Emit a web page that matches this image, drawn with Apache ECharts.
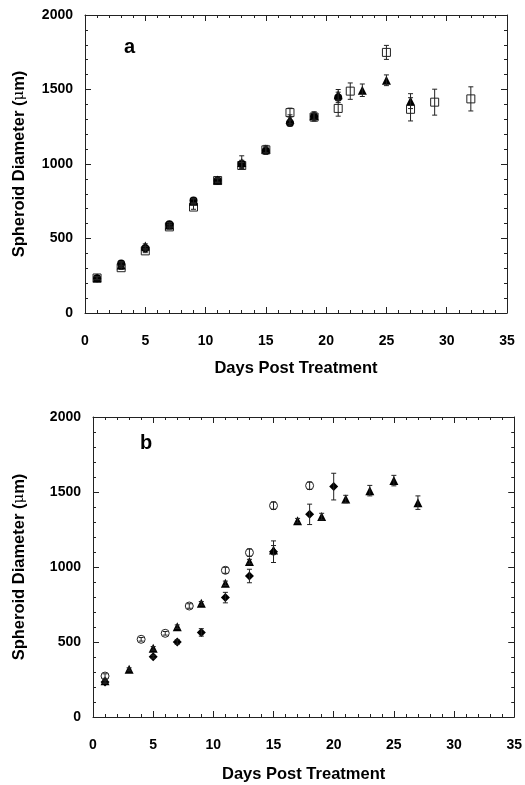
<!DOCTYPE html>
<html>
<head>
<meta charset="utf-8">
<script src="https://cdn.jsdelivr.net/npm/echarts@6/dist/echarts.min.js"></script>
<style>
  html, body { margin: 0; padding: 0; background: #fff; }
  #chart { width: 525px; height: 785px; }
</style>
</head>
<body>
<div id="chart"></div>
<script>
// axis ranges
var xMin = 0, xMax = 35, xStep = 5;
var yMin = 0, yMax = 2000, yStep = 500;

// panel a  -  [day, diameter (um), error]
var aSquares = [[1, 235, 10], [3, 304, 12], [5, 417, 12], [7, 578, 15], [9, 711, 15], [11, 889, 15],
  [13, 990, 20], [15, 1095, 20], [17, 1345, 30], [19, 1315, 25], [21, 1373, 52], [22, 1489, 55],
  [25, 1749, 47], [27, 1367, 78], [29, 1415, 87], [32, 1437, 81]];
var aTriangles = [[1, 235, 10], [3, 322, 15], [5, 449, 15], [7, 590, 15], [9, 750, 15], [11, 893, 15],
  [13, 1010, 45], [15, 1100, 25], [17, 1300, 30], [19, 1325, 25], [21, 1465, 35], [23, 1495, 42],
  [25, 1562, 36], [27, 1422, 50]];
var aCircles = [[1, 233, 10], [3, 333, 12], [5, 435, 12], [7, 595, 12], [9, 755, 15], [11, 889, 12],
  [13, 1000, 25], [15, 1089, 25], [17, 1275, 20], [19, 1318, 30], [21, 1447, 35]];

// panel b
var bCircles = [[1, 273, 15], [4, 518, 12], [6, 558, 12], [8, 740, 15], [11, 978, 20],
  [13, 1096, 25], [15, 1409, 25], [18, 1542, 25]];
var bTriangles = [[1, 242, 10], [3, 318, 10], [5, 458, 12], [7, 602, 12], [9, 758, 12], [11, 891, 15],
  [13, 1036, 15], [15, 1113, 30], [17, 1309, 15], [19, 1336, 22], [21, 1453, 25], [23, 1509, 35],
  [25, 1576, 35], [27, 1429, 45]];
var bDiamonds = [[1, 233, 10], [5, 402, 10], [7, 500, 15], [9, 564, 25], [11, 796, 35],
  [13, 940, 45], [15, 1102, 72], [18, 1351, 68], [20, 1536, 89]];

var FONT = 'Liberation Sans, Arial, sans-serif';

function plain(v) { return String(v); }

function xAxes(grid, top) {
  return {
    gridIndex: grid, type: 'value', position: top ? 'top' : 'bottom',
    min: xMin, max: xMax, interval: xStep,
    axisLine: { show: true, onZero: false, lineStyle: { color: '#222', width: 1 } },
    axisTick: { show: true, inside: true, length: 6, lineStyle: { color: '#222' } },
    minorTick: { show: true, splitNumber: 5, length: 3, lineStyle: { color: '#222' } },
    splitLine: { show: false },
    axisLabel: { show: !top, margin: 21, formatter: plain, color: '#000', fontFamily: FONT, fontWeight: 'bold', fontSize: 14 },
    name: top ? '' : 'Days Post Treatment',
    nameLocation: 'middle', nameGap: grid === 0 ? 47 : 49,
    nameTextStyle: { color: '#000', fontFamily: FONT, fontWeight: 'bold', fontSize: 16.5 }
  };
}

function yAxes(grid, right) {
  return {
    gridIndex: grid, type: 'value', position: right ? 'right' : 'left',
    min: yMin, max: yMax, interval: yStep,
    axisLine: { show: true, onZero: false, lineStyle: { color: '#222', width: 1 } },
    axisTick: { show: true, inside: true, length: 6, lineStyle: { color: '#222' } },
    minorTick: { show: true, splitNumber: 5, length: 3, lineStyle: { color: '#222' } },
    splitLine: { show: false },
    axisLabel: { show: !right, margin: 12, formatter: plain, color: '#000', fontFamily: FONT, fontWeight: 'bold', fontSize: 14 },
    name: right ? '' : '{b|Spheroid Diameter (}{m|\u03bc}{b|m)}',
    nameLocation: 'middle', nameGap: grid === 0 ? 57 : 65,
    nameTextStyle: {
      color: '#000', fontFamily: FONT, fontWeight: 'bold', fontSize: 16.5,
      rich: {
        b: { color: '#000', fontFamily: FONT, fontWeight: 'bold', fontSize: 16.5 },
        m: { color: '#000', fontFamily: 'DejaVu Serif, serif', fontWeight: 'normal', fontSize: 15 }
      }
    }
  };
}

function points(data, ai, symbol, size, hollow) {
  return {
    type: 'scatter', xAxisIndex: ai, yAxisIndex: ai, data: data,
    symbol: symbol, symbolSize: size, silent: true,
    itemStyle: hollow
      ? { color: '#fff', borderColor: '#222', borderWidth: 1, opacity: 1 }
      : { color: '#000', opacity: 1 }
  };
}

function errorBars(data, ai) {
  return {
    type: 'custom', xAxisIndex: ai, yAxisIndex: ai, data: data, z: 5, silent: true,
    encode: { x: 0, y: 1 },
    renderItem: function (params, api) {
      var x = api.value(0), y = api.value(1), e = api.value(2);
      var hi = api.coord([x, y + e]), lo = api.coord([x, y - e]);
      var w = 2.5;
      var st = { stroke: '#222', lineWidth: 1 };
      return {
        type: 'group', children: [
          { type: 'line', shape: { x1: hi[0], y1: hi[1], x2: lo[0], y2: lo[1] }, style: st },
          { type: 'line', shape: { x1: hi[0] - w, y1: hi[1], x2: hi[0] + w, y2: hi[1] }, style: st },
          { type: 'line', shape: { x1: lo[0] - w, y1: lo[1], x2: lo[0] + w, y2: lo[1] }, style: st }
        ]
      };
    }
  };
}

var myChart = echarts.init(document.getElementById('chart'));
myChart.setOption({
  animation: false,
  backgroundColor: '#fff',
  title: [
    { text: 'a', left: 119, top: 32, textStyle: { fontFamily: FONT, fontWeight: 'bold', fontSize: 20, color: '#000' } },
    { text: 'b', left: 135, top: 428, textStyle: { fontFamily: FONT, fontWeight: 'bold', fontSize: 20, color: '#000' } }
  ],
  grid: [
    { left: 85, top: 15, width: 422, height: 298 },
    { left: 93, top: 417, width: 422, height: 300 }
  ],
  // 0,1 -> panel a (bottom/top) ; 2,3 -> panel b
  xAxis: [xAxes(0, false), xAxes(0, true), xAxes(1, false), xAxes(1, true)],
  yAxis: [yAxes(0, false), yAxes(0, true), yAxes(1, false), yAxes(1, true)],
  series: [
    points(aSquares, 0, 'rect', 8, true),
    points(aTriangles, 0, 'triangle', 9, false),
    points(aCircles, 0, 'circle', 8, false),
    errorBars(aSquares, 0),
    errorBars(aTriangles, 0),
    errorBars(aCircles, 0),

    points(bCircles, 2, 'circle', 8, true),
    points(bTriangles, 2, 'triangle', 9, false),
    points(bDiamonds, 2, 'diamond', 9, false),
    errorBars(bCircles, 2),
    errorBars(bTriangles, 2),
    errorBars(bDiamonds, 2)
  ]
});
</script>
</body>
</html>
